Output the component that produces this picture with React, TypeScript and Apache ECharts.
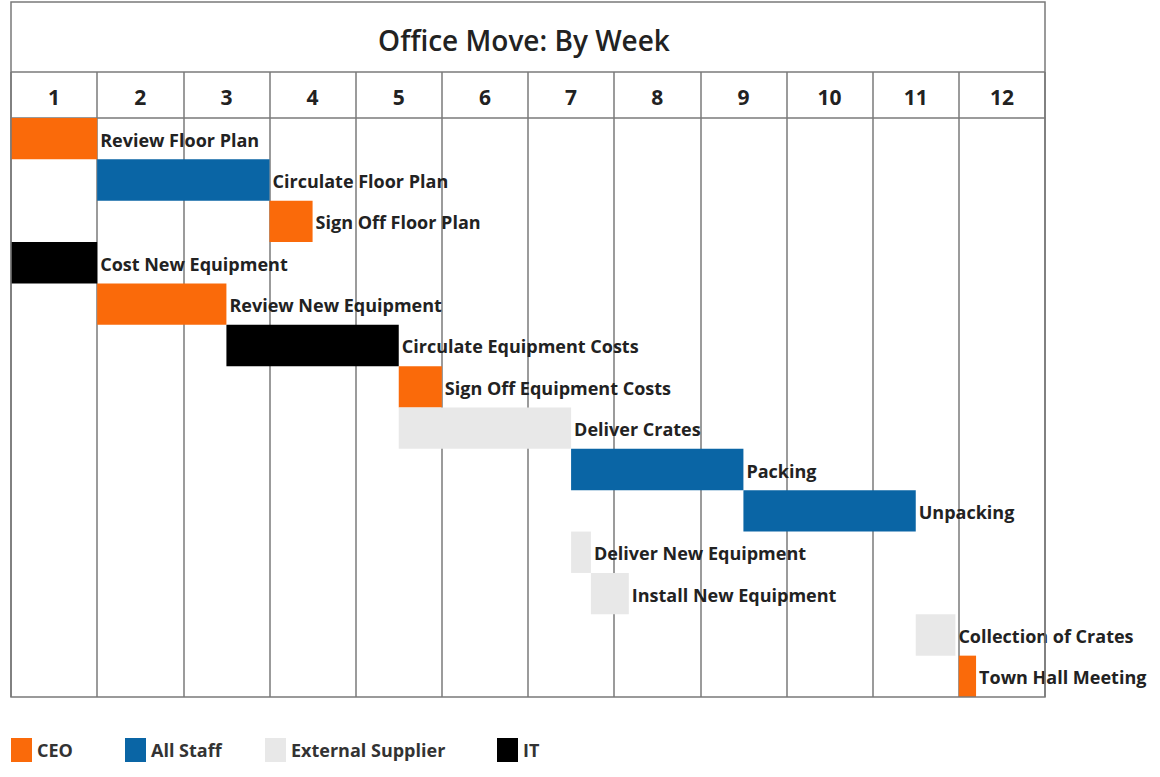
import React, { useEffect, useRef } from "react";
import * as echarts from "echarts";

const title = "Office Move: By Week";
const weeks = ["1", "2", "3", "4", "5", "6", "7", "8", "9", "10", "11", "12"];
const tasks = [
  "Review Floor Plan",
  "Circulate Floor Plan",
  "Sign Off Floor Plan",
  "Cost New Equipment",
  "Review New Equipment",
  "Circulate Equipment Costs",
  "Sign Off Equipment Costs",
  "Deliver Crates",
  "Packing",
  "Unpacking",
  "Deliver New Equipment",
  "Install New Equipment",
  "Collection of Crates",
  "Town Hall Meeting",
];
const starts = [0, 1, 3, 0, 1, 2.5, 4.5, 4.5, 6.5, 8.5, 6.5, 6.73, 10.5, 11];
const ends = [1, 3, 3.5, 1, 2.5, 4.5, 5, 6.5, 8.5, 10.5, 6.73, 7.17, 10.96, 11.2];
const owners = [
  "CEO",
  "All Staff",
  "CEO",
  "IT",
  "CEO",
  "IT",
  "CEO",
  "External Supplier",
  "All Staff",
  "All Staff",
  "External Supplier",
  "External Supplier",
  "External Supplier",
  "CEO",
];
const ownerNames = ["CEO", "All Staff", "External Supplier", "IT"];
const ownerColors = ["#fa6a0a", "#0a65a5", "#e8e8e8", "#000000"];

const FONT = "'Open Sans', 'Noto Sans', sans-serif";

export default function App() {
  const ref = useRef<HTMLDivElement>(null);
  useEffect(() => {
    if (!ref.current) return;
    const chart = echarts.init(ref.current, null, { renderer: "svg" });
    const L = 11, R = 1045, TOP = 118, BOT = 697;

    const series = ownerNames.map((name, oi) => ({
      name,
      type: "custom",
      clip: false,
      xAxisIndex: 0,
      yAxisIndex: 0,
      itemStyle: { color: ownerColors[oi] },
      encode: { x: [0, 1], y: 2 },
      data: tasks
        .map((t, i) => [starts[i], ends[i], i, t, owners[i]])
        .filter((d) => d[4] === name),
      renderItem: (params: any, api: any) => {
        const s = api.value(0);
        const e = api.value(1);
        const idx = api.value(2);
        const p0 = api.coord([s, idx]);
        const p1 = api.coord([e, idx]);
        const h = api.size([0, 1])[1];
        const label = tasks[idx];
        return {
          type: "group",
          children: [
            {
              type: "rect",
              shape: { x: p0[0], y: p0[1] - h / 2, width: p1[0] - p0[0], height: h },
              style: { fill: ownerColors[oi] },
            },
            {
              type: "text",
              style: {
                text: label,
                x: p1[0] + 3,
                y: p1[1] + 1,
                fill: "#222",
                fontSize: 18,
                fontWeight: "bold",
                fontFamily: FONT,
                align: "left",
                verticalAlign: "middle",
              },
            },
          ],
        };
      },
    }));

    const legendLefts = [6, 120, 260, 492];

    chart.setOption({
      animation: false,
      backgroundColor: "#fff",
      grid: { left: L, right: 1160 - R, top: TOP, bottom: 777 - BOT, show: false },
      xAxis: [
        {
          type: "value",
          min: 0,
          max: 12,
          interval: 1,
          position: "top",
          axisLabel: { show: false },
          axisTick: { show: false },
          axisLine: { show: false },
          splitLine: { show: true, lineStyle: { color: "#7a7a7a", width: 1.5 } },
        },
        {
          type: "category",
          data: weeks,
          position: "top",
          boundaryGap: true,
          axisLine: { show: true, lineStyle: { color: "#7a7a7a", width: 1.5 } },
          axisTick: {
            show: true,
            interval: 0,
            length: 46,
            lineStyle: { color: "#7a7a7a", width: 1.5 },
          },
          axisLabel: {
            interval: 0,
            margin: 11,
            fontSize: 21,
            fontWeight: "bold",
            fontFamily: FONT,
            color: "#222",
          },
          splitLine: { show: false },
        },
      ],
      yAxis: {
        type: "category",
        data: tasks,
        inverse: true,
        show: false,
      },
      legend: ownerNames.map((n, i) => ({
        data: [n],
        left: legendLefts[i],
        top: 733,
        icon: "rect",
        itemWidth: 21,
        itemHeight: 24,
        selectedMode: false,
        textStyle: { fontSize: 18, fontWeight: "bold", fontFamily: FONT, color: "#333" },
      })),
      graphic: [
        {
          type: "rect",
          shape: { x: L, y: 2, width: R - L, height: BOT - 2 },
          style: { fill: "none", stroke: "#7a7a7a", lineWidth: 1.5 },
          z: 100,
          silent: true,
        },
        {
          type: "line",
          shape: { x1: L, y1: 72, x2: R, y2: 72 },
          style: { stroke: "#7a7a7a", lineWidth: 1.5 },
          z: 100,
          silent: true,
        },
        {
          type: "text",
          x: 524,
          y: 40,
          style: {
            text: title,
            fontSize: 28,
            fontWeight: 600,
            fontFamily: FONT,
            fill: "#222",
            align: "center",
            verticalAlign: "middle",
          },
        },
      ],
      series,
    });
    return () => chart.dispose();
  }, []);
  return (
    <div
      ref={ref}
      style={{ position: "fixed", left: 0, top: 0, width: 1160, height: 777 }}
    />
  );
}
